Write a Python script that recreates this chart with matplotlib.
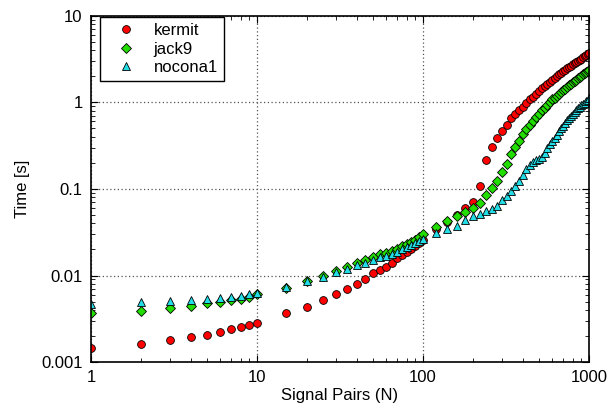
import numpy as np
from matplotlib import pyplot as plt
from matplotlib.ticker import FixedLocator, FuncFormatter, LogLocator, NullFormatter

plt.rcParams['font.family'] = ['Liberation Sans', 'DejaVu Sans']
plt.rcParams['font.size'] = 12

# signal pairs (N)
n = [1, 2, 3, 4, 5, 6, 7, 8, 9, 10,
     15, 20, 25, 30, 35, 40, 45, 50, 55, 60, 65, 70, 75, 80, 85, 90, 95, 100,
     120, 140, 160, 180, 200, 220, 240, 260, 280, 300, 320, 340, 360, 380, 400,
     420, 440, 460, 480, 500, 520, 540, 560, 580, 600, 620, 640, 660, 680, 700,
     720, 740, 760, 780, 800, 820, 840, 860, 880, 900, 920, 940, 960, 980, 1000]

kermit = [0.00147, 0.00161, 0.00179, 0.00194, 0.00208, 0.00224, 0.00244, 0.00255, 0.00272, 0.00286,
          0.00367, 0.00438, 0.00523, 0.00608, 0.00706, 0.0080, 0.0092, 0.0106, 0.0116, 0.0127,
          0.0141, 0.0158, 0.0173, 0.0187, 0.0203, 0.0220, 0.0238, 0.0258,
          0.034, 0.042, 0.050, 0.060, 0.071, 0.108, 0.213, 0.304, 0.385, 0.466, 0.542, 0.652,
          0.727, 0.813, 0.888, 0.971, 1.08, 1.15, 1.24, 1.36, 1.45, 1.55, 1.64, 1.73, 1.82,
          1.91, 2.00, 2.10, 2.19, 2.29, 2.39, 2.48, 2.56, 2.65, 2.74, 2.83, 2.92, 3.00, 3.10,
          3.19, 3.29, 3.38, 3.48, 3.57, 3.66]

jack9 = [0.00373, 0.00391, 0.0042, 0.0045, 0.00479, 0.00492, 0.00519, 0.00542, 0.00571, 0.00608,
         0.0072, 0.0087, 0.0099, 0.0112, 0.0126, 0.0140, 0.0152, 0.0163, 0.0176, 0.0183,
         0.0193, 0.0205, 0.0218, 0.0230, 0.0243, 0.0260, 0.0277, 0.0302,
         0.0362, 0.0425, 0.0487, 0.0535, 0.0599, 0.0692, 0.0840, 0.102, 0.125, 0.157, 0.194,
         0.253, 0.305, 0.361, 0.426, 0.491, 0.552, 0.614, 0.679, 0.739, 0.804, 0.866, 0.938,
         1.00, 1.08, 1.13, 1.19, 1.25, 1.31, 1.38, 1.44, 1.51, 1.57, 1.64, 1.71, 1.77, 1.83,
         1.89, 1.95, 2.03, 2.12, 2.18, 2.23, 2.30, 2.35]

nocona1 = [0.00467, 0.00492, 0.0051, 0.00523, 0.00537, 0.00547, 0.00571, 0.00582, 0.00608, 0.00635,
           0.0073, 0.0086, 0.0097, 0.0109, 0.0118, 0.0132, 0.0141, 0.0151, 0.0163, 0.0168,
           0.0177, 0.0189, 0.0201, 0.0212, 0.0225, 0.0239, 0.0251, 0.0262,
           0.0312, 0.0345, 0.0378, 0.0442, 0.0484, 0.0518, 0.0556, 0.0591, 0.0638, 0.0735,
           0.0826, 0.0946, 0.108, 0.123, 0.143, 0.168, 0.191, 0.203, 0.213, 0.224, 0.235,
           0.259, 0.300, 0.332, 0.359, 0.386, 0.424, 0.468, 0.501, 0.531, 0.578, 0.623, 0.659,
           0.693, 0.727, 0.780, 0.815, 0.848, 0.883, 0.929, 0.963, 0.993, 1.03, 1.07, 1.11]

fig = plt.figure(figsize=(6.11, 4.12), dpi=100)
ax = fig.add_axes([0.149, 0.121, 0.815, 0.841])

ax.plot(n, kermit, 'o', color='#ff0000', mec='black', mew=0.6, ms=5.6, label='kermit')
ax.plot(n, jack9, 'D', color='#22dd00', mec='black', mew=0.6, ms=4.6, label='jack9')
ax.plot(n, nocona1, '^', color='#22dde6', mec='black', mew=0.6, ms=6.2, label='nocona1')

ax.set_xscale('log')
ax.set_yscale('log')
ax.set_xlim(1, 1000)
ax.set_ylim(0.001, 10)

fmt = FuncFormatter(lambda v, p: '%g' % v)
ax.xaxis.set_major_locator(FixedLocator([1, 10, 100, 1000]))
ax.yaxis.set_major_locator(FixedLocator([0.001, 0.01, 0.1, 1, 10]))
ax.xaxis.set_major_formatter(fmt)
ax.yaxis.set_major_formatter(fmt)
ax.xaxis.set_minor_locator(LogLocator(base=10, subs=np.arange(2, 10)))
ax.yaxis.set_minor_locator(LogLocator(base=10, subs=np.arange(2, 10)))
ax.xaxis.set_minor_formatter(NullFormatter())
ax.yaxis.set_minor_formatter(NullFormatter())
ax.tick_params(which='both', direction='in', top=True, right=True, labelsize=12)
ax.tick_params(which='major', length=5, pad=6)
ax.tick_params(which='minor', length=3)

ax.grid(True, which='major', color='#555555', linestyle=(0, (1, 2)), linewidth=0.9)
for s in ax.spines.values():
    s.set_linewidth(1.2)

ax.set_xlabel('Signal Pairs (N)', labelpad=2)
ax.set_ylabel('Time [s]', labelpad=8)

leg = ax.legend(loc='upper left', bbox_to_anchor=(0.017, 0.995), fancybox=False,
                edgecolor='black', framealpha=1, borderpad=0.35, handletextpad=0.4,
                labelspacing=0.2, handlelength=2.5, borderaxespad=0)
leg.get_frame().set_linewidth(1.0)

fig.savefig('out.png', dpi=100)
